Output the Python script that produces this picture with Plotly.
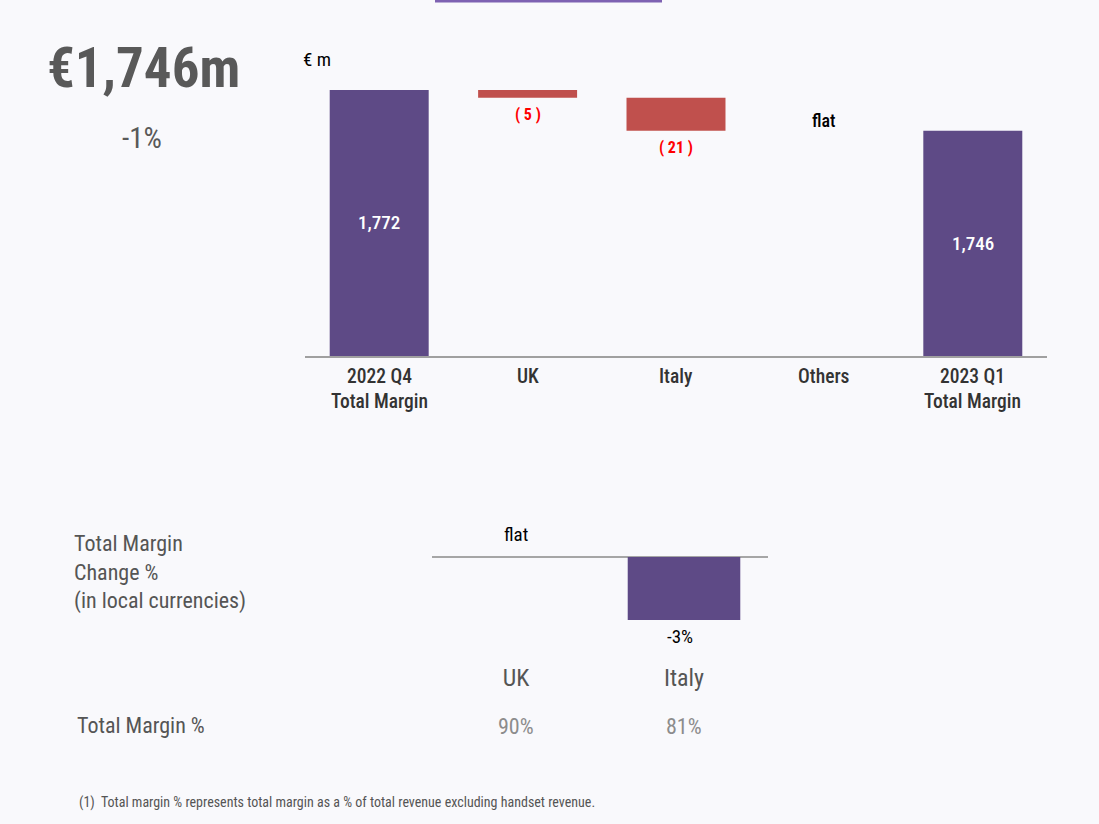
import plotly.graph_objects as go

# ---- data ----
wf_categories = ["2022 Q4<br>Total Margin", "UK", "Italy", "Others", "2023 Q1<br>Total Margin"]
wf_measures = ["absolute", "relative", "relative", "relative", "total"]
wf_values = [1772, -5, -21, 0, 1746]
wf_labels = ["1,772", "( 5 )", "( 21 )", "flat", "1,746"]

chg_categories = ["UK", "Italy"]
chg_values = [0, -3]
chg_labels = ["flat", "-3%"]
margin_pct = ["90%", "81%"]

headline = "€1,746m"
headline_change = "-1%"

PURPLE = "#5E4A86"
RED = "#C0504D"
FONT = "Roboto Condensed, Roboto, sans-serif"

W, H = 1099, 824
def py(px):
    return 1 - px / H
def px_(x):
    return x / W

fig = go.Figure()

fig.add_trace(go.Waterfall(
    x=wf_categories, y=wf_values, measure=wf_measures,
    connector=dict(visible=False),
    increasing=dict(marker=dict(color=RED)),
    decreasing=dict(marker=dict(color=RED)),
    totals=dict(marker=dict(color=PURPLE)),
    hoverinfo="skip",
    xaxis="x", yaxis="y",
))

fig.add_trace(go.Bar(
    x=chg_categories, y=chg_values, marker=dict(color=PURPLE, line=dict(width=0)),
    xaxis="x2", yaxis="y2", hoverinfo="skip", width=0.67,
))

annotations = []
BASE = 1603
running = 0
for cat, meas, val, lab in zip(wf_categories, wf_measures, wf_values, wf_labels):
    if meas == "absolute":
        running = val
        annotations.append(dict(x=cat, y=(BASE + val) / 2, xref="x", yref="y", text=lab,
                                showarrow=False, font=dict(color="white", size=19, family=FONT, weight=500)))
    elif meas == "total":
        annotations.append(dict(x=cat, y=(BASE + running) / 2, xref="x", yref="y", text=lab,
                                showarrow=False, font=dict(color="white", size=19, family=FONT, weight=500)))
    else:
        running = running + val
        if val < 0:
            annotations.append(dict(x=cat, y=running, xref="x", yref="y", text="<b>" + lab + "</b>",
                                    yshift=-17, showarrow=False,
                                    font=dict(color="#FF0000", size=16, family=FONT)))
        else:
            annotations.append(dict(x=cat, y=running, xref="x", yref="y", text=lab,
                                    yshift=10, showarrow=False,
                                    font=dict(color="black", size=18, family=FONT, weight=500)))

# category labels below the axis line
for cat in wf_categories:
    annotations.append(dict(x=cat, y=py(363), xref="x", yref="paper", yanchor="top",
                            text=cat, showarrow=False,
                            font=dict(color="#333333", size=19.5, family=FONT, weight=500)))

for cat, val, lab in zip(chg_categories, chg_values, chg_labels):
    if val == 0:
        annotations.append(dict(x=cat, y=val, xref="x2", yref="y2", text=lab, yshift=23,
                                showarrow=False, font=dict(color="black", size=19, family=FONT)))
    else:
        annotations.append(dict(x=cat, y=val, xref="x2", yref="y2", text=lab, yshift=-16, xshift=-4,
                                showarrow=False, font=dict(color="black", size=19, family=FONT)))

for cat, pct in zip(chg_categories, margin_pct):
    annotations.append(dict(x=cat, y=py(726), xref="x2", yref="paper", yanchor="middle", text=pct,
                            showarrow=False, font=dict(color="#8C8C8C", size=22, family=FONT)))

annotations += [
    dict(x=px_(45), y=py(68), xref="paper", yref="paper", xanchor="left", yanchor="middle",
         text="<b>" + headline + "</b>",
         showarrow=False, font=dict(color="#595959", size=55, family=FONT)),
    dict(x=px_(142), y=py(138), xref="paper", yref="paper", xanchor="center", yanchor="middle",
         text=headline_change,
         showarrow=False, font=dict(color="#595959", size=29, family=FONT)),
    dict(x=px_(301), y=py(60), xref="paper", yref="paper", xanchor="left", yanchor="middle", text="€ m",
         showarrow=False, font=dict(color="black", size=19, family=FONT)),
    dict(x=px_(72), y=py(572), xref="paper", yref="paper", xanchor="left", yanchor="middle", align="left",
         text="Total Margin<br>Change %<br>(in local currencies)",
         showarrow=False, font=dict(color="#555555", size=22, family=FONT)),
    dict(x=px_(75), y=py(725), xref="paper", yref="paper", xanchor="left", yanchor="middle",
         text="Total Margin %", showarrow=False, font=dict(color="#555555", size=22, family=FONT)),
    dict(x=px_(77), y=py(802), xref="paper", yref="paper", xanchor="left", yanchor="middle",
         text="(1)  Total margin % represents total margin as a % of total revenue excluding handset revenue.",
         showarrow=False, font=dict(color="#555555", size=14, family=FONT)),
]

fig.update_layout(
    width=W, height=H,
    margin=dict(l=0, r=0, t=0, b=0),
    paper_bgcolor="#F9F9FC", plot_bgcolor="rgba(0,0,0,0)",
    showlegend=False, bargap=0.333, waterfallgap=0.333,
    font=dict(family=FONT),
    xaxis=dict(domain=[px_(305), px_(1047)], showgrid=False, showline=True, linecolor="#A0A0A0",
               linewidth=2, ticks="", showticklabels=False, anchor="y", fixedrange=True),
    yaxis=dict(domain=[py(356), py(60)], range=[BASE, 1791], visible=False, showgrid=False,
               anchor="x", fixedrange=True),
    xaxis2=dict(domain=[px_(432), px_(768)], showgrid=False, showline=False, ticks="",
                tickfont=dict(size=24, color="#555555", family=FONT), anchor="y2", fixedrange=True),
    yaxis2=dict(domain=[py(661), py(540)], range=[-4.95, 0.81], showgrid=False, showticklabels=False,
                zeroline=True, zerolinecolor="#A6A6A6", zerolinewidth=2, anchor="x2", fixedrange=True),
    annotations=annotations,
    shapes=[dict(type="line", xref="paper", yref="paper", x0=px_(435), x1=px_(662), y0=py(1), y1=py(1),
                 line=dict(color="#7E62B2", width=3))],
)

fig.write_html("out.html")
